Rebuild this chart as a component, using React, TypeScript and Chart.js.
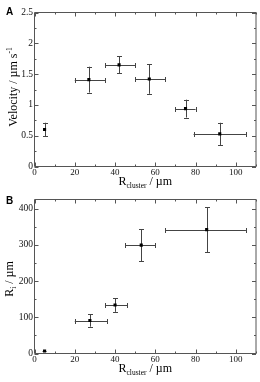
import React, { useEffect, useRef } from "react";
import { Chart, registerables } from "chart.js";
Chart.register(...registerables);

// ---- Panel A: velocity vs cluster radius ----
const velX = [5, 27, 42, 57, 75, 92];
const velY = [0.6, 1.41, 1.65, 1.42, 0.94, 0.53];
const velYErr = [0.11, 0.21, 0.14, 0.24, 0.145, 0.18];
const velXLow = [5, 20, 35, 50, 70, 79];
const velXHigh = [5, 35, 50, 65, 80, 105];
const velYTicks = [0, 0.5, 1, 1.5, 2, 2.5];
const velYMinor = [0.25, 0.75, 1.25, 1.75, 2.25];

// ---- Panel B: R_i vs cluster radius ----
const riX = [5, 27.5, 40, 53, 85.5];
const riY = [7, 91, 134, 299, 342];
const riYErr = [0, 17, 19, 44, 62];
const riXLow = [4, 20, 35, 45, 65];
const riXHigh = [6, 36, 46, 60, 105];
const riYTicks = [0, 100, 200, 300, 400];
const riYMinor = [50, 150, 250, 350];

// ---- shared x axis ----
const xTicks = [0, 20, 40, 60, 80, 100];
const xMinor = [10, 30, 50, 70, 90, 110];

const SERIF = "'Liberation Serif', 'DejaVu Serif', serif";
const SANS = "'Liberation Sans', Arial, sans-serif";

type Part = { t: string; size: number; dy: number };

function drawParts(ctx: CanvasRenderingContext2D, parts: Part[], cx: number, by: number) {
  let total = 0;
  const widths = parts.map((p) => {
    ctx.font = `${p.size}px ${SERIF}`;
    const w = ctx.measureText(p.t).width;
    total += w;
    return w;
  });
  let x = cx - total / 2;
  ctx.textAlign = "left";
  ctx.textBaseline = "alphabetic";
  parts.forEach((p, i) => {
    ctx.font = `${p.size}px ${SERIF}`;
    ctx.fillText(p.t, x, by + p.dy);
    x += widths[i];
  });
}

type PanelCfg = {
  x: number[];
  y: number[];
  yErr: number[];
  xLow: number[];
  xHigh: number[];
  yMax: number;
  yTicks: number[];
  yMinor: number[];
  padTop: number;
  yAxisWidth: number;
  xAxisHeight: number;
  letter: string;
  letterY: number;
  xTitleY: number;
  yTitleX: number;
  yTitleY: number;
  yTitle: Part[];
};

function makeChart(canvas: HTMLCanvasElement, cfg: PanelCfg) {
  const frame = {
    id: "frame",
    beforeDatasetsDraw(chart: any) {
      const { ctx, scales } = chart;
      const xs = scales.x;
      const ys = scales.y;
      ctx.save();
      ctx.strokeStyle = "#444";
      ctx.lineWidth = 1;
      ctx.beginPath();
      const cap = 2.5;
      cfg.x.forEach((xv, i) => {
        const px = xs.getPixelForValue(xv);
        const py = ys.getPixelForValue(cfg.y[i]);
        if (cfg.yErr[i] > 0) {
          const t = ys.getPixelForValue(cfg.y[i] + cfg.yErr[i]);
          const b = ys.getPixelForValue(cfg.y[i] - cfg.yErr[i]);
          const cx = Math.round(px) + 0.5;
          ctx.moveTo(cx, t);
          ctx.lineTo(cx, b);
          ctx.moveTo(cx - cap, Math.round(t) + 0.5);
          ctx.lineTo(cx + cap, Math.round(t) + 0.5);
          ctx.moveTo(cx - cap, Math.round(b) + 0.5);
          ctx.lineTo(cx + cap, Math.round(b) + 0.5);
        }
        if (cfg.xHigh[i] > cfg.xLow[i]) {
          const l = xs.getPixelForValue(cfg.xLow[i]);
          const r = xs.getPixelForValue(cfg.xHigh[i]);
          const cy = Math.round(py) + 0.5;
          ctx.moveTo(l, cy);
          ctx.lineTo(r, cy);
          if (r - l > 6) {
            ctx.moveTo(Math.round(l) + 0.5, cy - cap);
            ctx.lineTo(Math.round(l) + 0.5, cy + cap);
            ctx.moveTo(Math.round(r) + 0.5, cy - cap);
            ctx.lineTo(Math.round(r) + 0.5, cy + cap);
          }
        }
      });
      ctx.stroke();
      ctx.restore();
    },
    afterDatasetsDraw(chart: any) {
      const { ctx, scales } = chart;
      const xs = scales.x;
      const ys = scales.y;
      const L = xs.left;
      const R = xs.right;
      const T = ys.top;
      const B = ys.bottom;
      ctx.save();
      ctx.strokeStyle = "#555";
      ctx.lineWidth = 1;
      ctx.beginPath();
      // frame
      ctx.moveTo(L, T);
      ctx.lineTo(R, T);
      ctx.lineTo(R, B);
      ctx.lineTo(L, B);
      ctx.lineTo(L, T);
      const xt = (v: number, len: number) => {
        const p = Math.round(xs.getPixelForValue(v)) + 0.5;
        ctx.moveTo(p, B);
        ctx.lineTo(p, B - len);
        ctx.moveTo(p, T);
        ctx.lineTo(p, T + len);
      };
      const yt = (v: number, len: number) => {
        const p = Math.round(ys.getPixelForValue(v)) + 0.5;
        ctx.moveTo(L, p);
        ctx.lineTo(L + len, p);
        ctx.moveTo(R, p);
        ctx.lineTo(R - len, p);
      };
      xTicks.forEach((v) => xt(v, 4));
      xMinor.forEach((v) => xt(v, 2));
      cfg.yTicks.forEach((v) => yt(v, 4));
      cfg.yMinor.forEach((v) => yt(v, 2));
      ctx.stroke();

      ctx.fillStyle = "#000";
      // panel letter
      ctx.font = `bold 10px ${SANS}`;
      ctx.textAlign = "left";
      ctx.textBaseline = "alphabetic";
      ctx.fillText(cfg.letter, 6, cfg.letterY);
      // x title
      const cx = (L + R) / 2;
      drawParts(
        ctx,
        [
          { t: "R", size: 12, dy: 0 },
          { t: "cluster", size: 7.5, dy: 3 },
          { t: " / µm", size: 12, dy: 0 },
        ],
        cx,
        cfg.xTitleY
      );
      // y title
      ctx.translate(cfg.yTitleX, cfg.yTitleY);
      ctx.rotate(-Math.PI / 2);
      drawParts(ctx, cfg.yTitle, 0, 0);
      ctx.restore();
    },
  };

  return new Chart(canvas, {
    type: "scatter",
    data: {
      datasets: [
        {
          data: cfg.x.map((xv, i) => ({ x: xv, y: cfg.y[i] })),
          pointStyle: "rect",
          pointRadius: 2.2,
          backgroundColor: "#000",
          borderColor: "#000",
          borderWidth: 0,
        },
      ],
    },
    options: {
      animation: false,
      responsive: false,
      devicePixelRatio: 1,
      layout: { padding: { left: 0, right: 3.5, top: cfg.padTop, bottom: 0 } },
      plugins: { legend: { display: false }, tooltip: { enabled: false } },
      scales: {
        x: {
          type: "linear",
          min: 0,
          max: 110,
          grid: { display: false, drawTicks: false, tickLength: 0 },
          border: { display: false },
          ticks: {
            font: { family: SERIF, size: 9 },
            color: "#111",
            padding: 1,
            maxRotation: 0,
            autoSkip: false,
            callback: (v: any) => String(v),
          },
          afterBuildTicks: (s: any) => {
            s.ticks = xTicks.map((v) => ({ value: v }));
          },
          afterFit: (s: any) => {
            s.height = cfg.xAxisHeight;
          },
        },
        y: {
          type: "linear",
          min: 0,
          max: cfg.yMax,
          grid: { display: false, drawTicks: false, tickLength: 0 },
          border: { display: false },
          ticks: {
            font: { family: SERIF, size: 9.5 },
            color: "#111",
            padding: 1.5,
            autoSkip: false,
            callback: (v: any) => String(v),
          },
          afterBuildTicks: (s: any) => {
            s.ticks = cfg.yTicks.map((v) => ({ value: v }));
          },
          afterFit: (s: any) => {
            s.width = cfg.yAxisWidth;
          },
        },
      },
    },
    plugins: [frame],
  } as any);
}

const panelA: PanelCfg = {
  x: velX,
  y: velY,
  yErr: velYErr,
  xLow: velXLow,
  xHigh: velXHigh,
  yMax: 2.5,
  yTicks: velYTicks,
  yMinor: velYMinor,
  padTop: 12.5,
  yAxisWidth: 34.5,
  xAxisHeight: 24.5,
  letter: "A",
  letterY: 15,
  xTitleY: 185,
  yTitleX: 16.5,
  yTitleY: 87,
  yTitle: [
    { t: "Velocity / µm s", size: 12, dy: 0 },
    { t: "-1", size: 7.5, dy: -5 },
  ],
};

const panelB: PanelCfg = {
  x: riX,
  y: riY,
  yErr: riYErr,
  xLow: riXLow,
  xHigh: riXHigh,
  yMax: 425,
  yTicks: riYTicks,
  yMinor: riYMinor,
  padTop: 8.5,
  yAxisWidth: 34.5,
  xAxisHeight: 28.5,
  letter: "B",
  letterY: 13,
  xTitleY: 180.5,
  yTitleX: 12.7,
  yTitleY: 88,
  yTitle: [
    { t: "R", size: 12, dy: 0 },
    { t: "i", size: 7.5, dy: 3 },
    { t: " / µm", size: 12, dy: 0 },
  ],
};

function Panel({ cfg, top }: { cfg: PanelCfg; top: number }) {
  const ref = useRef<HTMLCanvasElement>(null);
  useEffect(() => {
    const c = makeChart(ref.current!, cfg);
    return () => c.destroy();
  }, [cfg]);
  return (
    <canvas
      ref={ref}
      width={260}
      height={191}
      style={{ position: "absolute", left: 0, top, width: 260, height: 191, display: "block" }}
    />
  );
}

export default function App() {
  return (
    <div style={{ position: "absolute", left: 0, top: 0, width: 260, height: 382, background: "#fff" }}>
      <Panel cfg={panelA} top={0} />
      <Panel cfg={panelB} top={191} />
    </div>
  );
}
